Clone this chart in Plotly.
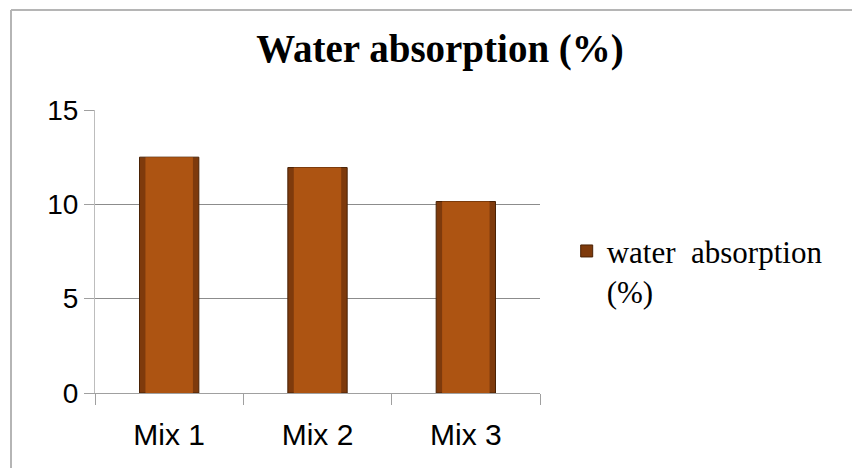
import plotly.graph_objects as go

categories = ["Mix 1", "Mix 2", "Mix 3"]
water_absorption = [12.5, 11.95, 10.15]
series_name = "water&nbsp;&nbsp;absorption<br>(%)"
y_ticks = [0, 5, 10, 15]

fig = go.Figure()
fig.add_trace(go.Bar(
    x=categories, y=water_absorption, name=series_name,
    width=0.4,
    marker=dict(color="#7e3a0c", line=dict(color="#4a2205", width=1)),
    showlegend=True,
))
fig.add_trace(go.Bar(
    x=categories, y=water_absorption, name="inner",
    width=0.32,
    marker=dict(color="#ad5412", line=dict(width=0)),
    showlegend=False, hoverinfo="skip",
))

fig.update_layout(
    width=852, height=468,
    barmode="overlay",
    paper_bgcolor="white", plot_bgcolor="white",
    margin=dict(l=95, r=312, t=110, b=75),
    title=dict(text="<b>Water absorption (%)</b>", x=440/852, xanchor="center",
               y=1 - 48/468, yanchor="middle",
               font=dict(family="Liberation Serif", size=39, color="black")),
    showlegend=True,
    legend=dict(x=1.06, y=0.43, xanchor="left", yanchor="middle", valign="top",
                font=dict(family="Liberation Serif", size=31, color="black"),
                bgcolor="rgba(0,0,0,0)", itemwidth=30),
    xaxis=dict(showline=True, linecolor="#a0a0a0", linewidth=1,
               ticks="outside", tickson="boundaries", ticklen=11, tickcolor="#a0a0a0",
               ticklabelstandoff=15,
               tickfont=dict(family="Liberation Sans", size=30, color="black"),
               showgrid=False),
    yaxis=dict(range=[0, 15], tickvals=y_ticks, showline=True, linecolor="#bdbdbd", linewidth=1,
               ticks="outside", ticklen=10, tickcolor="#a0a0a0",
               showgrid=True, gridcolor="#8c8c8c", gridwidth=1, zeroline=False,
               tickfont=dict(family="Liberation Sans", size=28, color="black")),
    shapes=[
        dict(type="line", xref="paper", yref="paper", x0=-(95 - 11) / 445, x1=2, y0=1 + (110 - 10) / 283, y1=1 + (110 - 10) / 283,
             line=dict(color="#b5b5b5", width=2)),
        dict(type="line", xref="paper", yref="paper", x0=-(95 - 11) / 445, x1=-(95 - 11) / 445, y0=1 + (110 - 10) / 283, y1=-1,
             line=dict(color="#b5b5b5", width=2)),
    ],
)

fig.write_html("out.html", config={"displayModeBar": False},
               post_script="document.body.style.margin='0';")
